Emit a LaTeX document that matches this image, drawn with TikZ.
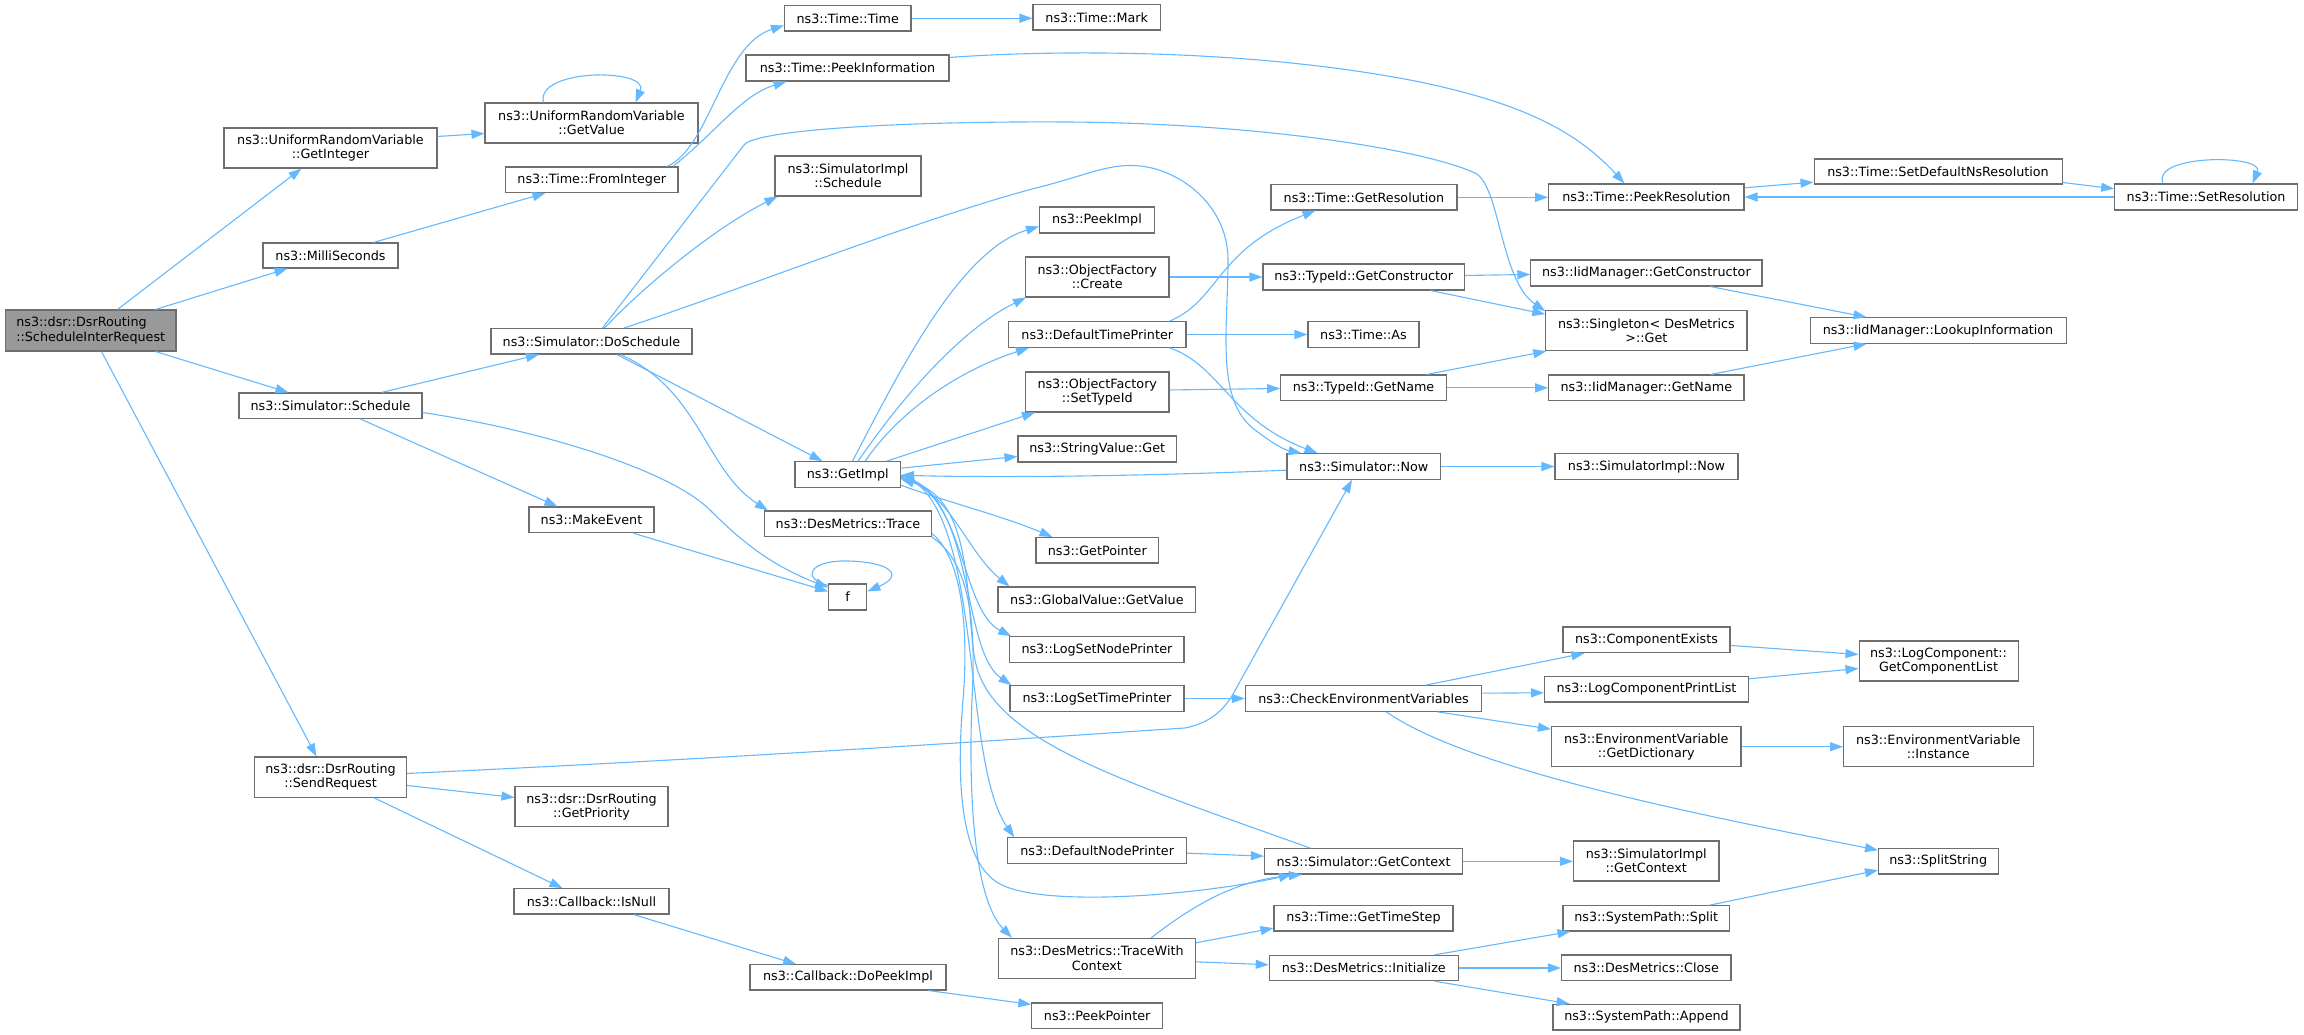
\documentclass[tikz,border=0pt]{standalone}
\usepackage{fontspec}
\setmainfont{DejaVu Sans}
\usetikzlibrary{arrows.meta}
\definecolor{edgeblue}{HTML}{63B8FF}
\definecolor{bordergray}{HTML}{6E6E6E}
\definecolor{rootfill}{HTML}{999999}
\tikzset{
  box/.style={draw=bordergray, line width=1.05pt, fill=white, inner sep=0pt, align=center,
    font=\fontsize{12.75pt}{14.3pt}\selectfont},
  rootbox/.style={fill=rootfill, align=left},
  cl/.style={draw=edgeblue, line width=1.1pt, -{Triangle[length=13pt,width=9pt]}}
}
\newcommand\bx[7][]{%
  \pgfmathsetmacro\bxcx{(#3+#5)/2}%
  \pgfmathsetmacro\bxcy{-(#4+#6)/2}%
  \pgfmathsetmacro\bxw{#5-#3}%
  \pgfmathsetmacro\bxh{#6-#4}%
  \node[box,#1,minimum width=\bxw pt,minimum height=\bxh pt] (#2) at (\bxcx pt,\bxcy pt) {#7};}
\begin{document}
\begin{tikzpicture}[x=1pt,y=1pt]
\useasboundingbox (0,0) rectangle (2304,-1035);
% nodes
\bx[rootbox]{sir}{5.5}{310}{176}{351}{ns3::dsr::DsrRouting\\::ScheduleInterRequest}
\bx{gint}{224}{128}{437}{168}{ns3::UniformRandomVariable\\::GetInteger}
\bx{gval}{485}{103}{698}{143}{ns3::UniformRandomVariable\\::GetValue}
\bx{fint}{505.5}{167}{678}{192.5}{ns3::Time::FromInteger}
\bx{milli}{263}{243}{398}{268}{ns3::MilliSeconds}
\bx{dosch}{491}{328.5}{692}{354}{ns3::Simulator::DoSchedule}
\bx{sched}{239}{393}{422}{418.5}{ns3::Simulator::Schedule}
\bx{ttime}{784.5}{5.5}{911}{31}{ns3::Time::Time}
\bx{mark}{1033}{4.5}{1160.5}{30}{ns3::Time::Mark}
\bx{peekinfo}{746}{55}{949}{81}{ns3::Time::PeekInformation}
\bx{simsched}{775}{156}{921}{196}{ns3::SimulatorImpl\\::Schedule}
\bx{peekimpl}{1039.5}{207}{1154.5}{233}{ns3::PeekImpl}
\bx{create}{1025.5}{257}{1169}{297}{ns3::ObjectFactory\\::Create}
\bx{dtp}{1008.5}{321.7}{1186}{347.3}{ns3::DefaultTimePrinter}
\bx{settype}{1025.5}{372}{1169}{412}{ns3::ObjectFactory\\::SetTypeId}
\bx{getres}{1271}{184.7}{1457}{210}{ns3::Time::GetResolution}
\bx{tgc}{1263}{264}{1464.6}{290}{ns3::TypeId::GetConstructor}
\bx{as}{1308}{321.7}{1419}{347.3}{ns3::Time::As}
\bx{tgn}{1280.7}{375}{1446.4}{400.7}{ns3::TypeId::GetName}
\bx{now}{1287}{453.7}{1440.5}{479.3}{ns3::Simulator::Now}
\bx{strget}{1018}{436}{1176.4}{462}{ns3::StringValue::Get}
\bx{getptr}{1036}{537.5}{1158.6}{563}{ns3::GetPointer}
\bx{peekres}{1548.7}{184}{1744}{210}{ns3::Time::PeekResolution}
\bx{setdef}{1814}{159}{2062}{184}{ns3::Time::SetDefaultNsResolution}
\bx{setres}{2114.7}{184}{2297.4}{210}{ns3::Time::SetResolution}
\bx{iidgc}{1530.8}{260}{1762}{286}{ns3::IidManager::GetConstructor}
\bx{single}{1545.8}{310.7}{1747}{350.7}{ns3::Singleton< DesMetrics\\ >::Get}
\bx{lookup}{1810}{317.7}{2066}{343.3}{ns3::IidManager::LookupInformation}
\bx{iidgn}{1548.7}{375}{1744}{400.7}{ns3::IidManager::GetName}
\bx{getimpl}{795}{461.7}{900.5}{487.3}{ns3::GetImpl}
\bx{trace}{764.4}{511}{931.4}{536.7}{ns3::DesMetrics::Trace}
\bx{f}{828.6}{584}{866.8}{610}{f}
\bx{gvget}{998}{587}{1195.8}{612.7}{ns3::GlobalValue::GetValue}
\bx{lsnp}{1009.8}{636.7}{1184}{662.3}{ns3::LogSetNodePrinter}
\bx{lstp}{1010}{685.7}{1184}{711.3}{ns3::LogSetTimePrinter}
\bx{cev}{1245.3}{685.7}{1481.8}{711.3}{ns3::CheckEnvironmentVariables}
\bx{makeev}{529}{507}{654}{532.7}{ns3::MakeEvent}
\bx{simimplnow}{1555}{453.7}{1738}{479.3}{ns3::SimulatorImpl::Now}
\bx{compex}{1563}{627}{1730}{652.7}{ns3::ComponentExists}
\bx{gcl}{1859}{641}{2018}{681}{ns3::LogComponent::\\GetComponentList}
\bx{lcpl}{1544.5}{676.3}{1748.5}{702}{ns3::LogComponentPrintList}
\bx{getdict}{1551.5}{726.7}{1741}{766.7}{ns3::EnvironmentVariable\\::GetDictionary}
\bx{envinst}{1843.5}{726.7}{2033}{766.7}{ns3::EnvironmentVariable\\::Instance}
\bx{sigc}{1573.5}{841}{1719}{881}{ns3::SimulatorImpl\\::GetContext}
\bx{split}{1878.5}{848.7}{1998}{874}{ns3::SplitString}
\bx{spsplit}{1563}{905.7}{1729.5}{931}{ns3::SystemPath::Split}
\bx{close}{1561.5}{955}{1731}{980.7}{ns3::DesMetrics::Close}
\bx{append}{1553}{1004.3}{1740}{1030}{ns3::SystemPath::Append}
\bx{dnp}{1007.8}{837.7}{1186.5}{863.3}{ns3::DefaultNodePrinter}
\bx{getctx}{1264.4}{848.7}{1462.8}{874}{ns3::Simulator::GetContext}
\bx{timestep}{1274}{905.7}{1453}{931}{ns3::Time::GetTimeStep}
\bx{twc}{998.5}{938.3}{1195.4}{978.3}{ns3::DesMetrics::TraceWith\\Context}
\bx{init}{1269.3}{955.3}{1458.3}{980.7}{ns3::DesMetrics::Initialize}
\bx{dopeek}{750}{964.7}{946}{990}{ns3::Callback::DoPeekImpl}
\bx{peekptr}{1031.8}{1003}{1162.5}{1028.7}{ns3::PeekPointer}
\bx{sendreq}{254.6}{757}{406.5}{797.3}{ns3::dsr::DsrRouting\\::SendRequest}
\bx{prio}{515}{786.7}{668}{826.7}{ns3::dsr::DsrRouting\\::GetPriority}
\bx{isnull}{514}{888.7}{669}{914}{ns3::Callback::IsNull}
% edges
\draw[cl] ([xshift=112.5pt]sir.north west) -- ([xshift=78pt]gint.south west);
\draw[cl] ([xshift=150.5pt]sir.north west) -- ([xshift=25pt]milli.south west);
\draw[cl] ([xshift=150.5pt]sir.south west) -- ([xshift=50pt]sched.north west);
\draw[cl] ([xshift=96.5pt]sir.south west) -- ([xshift=62.4pt]sendreq.north west);
\draw[cl] ([yshift=-9pt]gint.north east) -- ([yshift=-31pt]gval.north west);
\draw[cl] ([xshift=59pt]gval.north west) .. controls (535,-68) and (650,-68) .. ([xshift=151pt]gval.north west);
\draw[cl] ([xshift=111pt]milli.north west) -- ([xshift=40.5pt]fint.south west);
\draw[cl] ([xshift=162pt]fint.north west) .. controls (710,-148) and (722,-45) .. ([yshift=-20.5pt]ttime.north west);
\draw[cl] ([xshift=168pt]fint.north west) .. controls (718,-130) and (742,-95) .. ([xshift=41pt]peekinfo.south west);
\draw[cl] (ttime.east) -- (ttime.east -| mark.west);
\draw[cl] ([yshift=-3pt]peekinfo.north east) .. controls (1050,-50) and (1250,-48) .. (1420,-82) .. controls (1530,-105) and (1580,-135) .. ([xshift=76.3pt]peekres.north west);
\draw[cl] ([xshift=143pt]sched.north west) -- ([xshift=48.5pt]dosch.south west);
\draw[cl] ([xshift=122pt]sched.south west) -- ([xshift=29pt]makeev.north west);
\draw[cl] ([yshift=-20pt]sched.north east) .. controls (540,-430) and (670,-470) .. (710,-510) .. controls (740,-540) and (770,-565) .. ([yshift=-4pt]f.north west);
\draw[cl] ([xshift=105pt]makeev.south west) -- ([yshift=-8pt]f.north west);
\draw[cl] ([yshift=-2pt]f.north west) .. controls (800,-578) and (810,-560) .. (848,-561) .. controls (890,-562) and (905,-575) .. ([yshift=-8pt]f.north east);
\draw[cl] ([xshift=112pt]dosch.north west) -- (744,-145) .. controls (755,-130) and (900,-121) .. (1067,-122) .. controls (1250,-123) and (1420,-148) .. (1475,-173) .. controls (1500,-185) and (1500,-280) .. ([yshift=-1pt]single.north west);
\draw[cl] ([xshift=114pt]dosch.north west) .. controls (650,-280) and (720,-225) .. ([xshift=3pt]simsched.south west);
\draw[cl] ([xshift=133.6pt]dosch.north west) .. controls (740,-290) and (930,-215) .. (1040,-187) .. controls (1090,-174) and (1110,-163) .. (1140,-166) .. controls (1180,-170) and (1228,-205) .. (1228,-260) .. controls (1228,-330) and (1215,-400) .. (1255,-430) .. controls (1275,-445) and (1285,-450) .. ([xshift=15pt]now.north west);
\draw[cl] ([xshift=126.5pt]dosch.south west) -- ([xshift=28pt]getimpl.north west);
\draw[cl] ([xshift=130pt]dosch.south west) .. controls (700,-390) and (705,-470) .. ([xshift=4pt]trace.north west);
\draw[cl] ([xshift=58pt]getimpl.north west) .. controls (900,-370) and (960,-250) .. ([yshift=-20pt]peekimpl.north west);
\draw[cl] ([xshift=63.6pt]getimpl.north west) .. controls (900,-400) and (960,-330) .. ([xshift=1pt]create.south west);
\draw[cl] ([xshift=70.7pt]getimpl.north west) .. controls (900,-410) and (960,-370) .. ([xshift=21pt]dtp.south west);
\draw[cl] ([xshift=92pt]getimpl.north west) -- ([xshift=10pt]settype.south west);
\draw[cl] ([yshift=-7pt]getimpl.north east) -- ([yshift=-21pt]strget.north west);
\draw[cl] ([yshift=-24pt]getimpl.north east) .. controls (940,-500) and (1000,-515) .. ([xshift=17pt]getptr.north west);
\draw[cl] ([yshift=-17pt]getimpl.north east) .. controls (950,-490) and (965,-550) .. ([xshift=12pt]gvget.north west);
\draw[cl] ([yshift=-16pt]getimpl.north east) .. controls (965,-490) and (960,-610) .. ([xshift=2pt]lsnp.north west);
\draw[cl] ([yshift=-15pt]getimpl.north east) .. controls (975,-490) and (960,-650) .. ([xshift=2pt]lstp.north west);
\draw[cl] ([yshift=-14pt]getimpl.north east) .. controls (985,-500) and (960,-760) .. ([xshift=7pt]dnp.north west);
\draw[cl] ([yshift=-17pt]now.north west) .. controls (1150,-476) and (1000,-478) .. ([yshift=-14pt]getimpl.north east);
\draw[cl] ([xshift=46.6pt]getctx.north west) .. controls (1120,-780) and (990,-740) .. (975,-660) .. controls (965,-607) and (975,-500) .. ([yshift=-18pt]getimpl.north east);
\draw[cl] (trace.south east) .. controls (975,-565) and (975,-640) .. (972,-700) .. controls (968,-800) and (975,-900) .. ([xshift=14pt]twc.north west);
\draw[cl] ([yshift=-23pt]trace.north east) .. controls (965,-560) and (968,-640) .. (963,-700) .. controls (958,-760) and (955,-860) .. (1000,-884) .. controls (1045,-908) and (1200,-895) .. ([xshift=28pt]getctx.south west);
\draw[cl] ([xshift=153.3pt]twc.north west) .. controls (1200,-900) and (1240,-880) .. ([xshift=38pt]getctx.south west);
\draw[cl] ([yshift=-5pt]twc.north east) -- ([yshift=-23pt]timestep.north west);
\draw[cl] ([yshift=-24pt]twc.north east) -- ([yshift=-10pt]init.north west);
\draw[cl] ([xshift=166pt]init.north west) -- ([xshift=8pt]spsplit.south west);
\draw[cl] (init.east) -- (init.east -| close.west);
\draw[cl] ([xshift=166pt]init.south west) -- ([xshift=17pt]append.north west);
\draw[cl] ([xshift=147pt]spsplit.north west) -- ([yshift=-22pt]split.north west);
\draw[cl] ([xshift=141.5pt]cev.south west) .. controls (1470,-770) and (1700,-815) .. ([yshift=-2pt]split.north west);
\draw[cl] ([xshift=180.7pt]cev.north west) -- ([xshift=22pt]compex.south west);
\draw[cl] ([yshift=-8pt]cev.north east) -- ([yshift=-17pt]lcpl.north west);
\draw[cl] ([xshift=192.7pt]cev.south west) -- ([yshift=-3pt]getdict.north west);
\draw[cl] ([yshift=-19pt]compex.north east) -- ([yshift=-14pt]gcl.north west);
\draw[cl] ([yshift=-3pt]lcpl.north east) -- ([yshift=-28pt]gcl.north west);
\draw[cl] (getdict.east) -- (envinst.west);
\draw[cl] (lstp.east) -- (cev.west);
\draw[cl] (getctx.east) -- (getctx.east -| sigc.west);
\draw[cl] (now.east) -- (simimplnow.west);
\draw[cl] ([yshift=-16pt]dnp.north east) -- ([yshift=-8pt]getctx.north west);
\draw[cl] ([yshift=-17pt]sendreq.north east) .. controls (800,-755) and (1120,-732) .. (1185,-728) .. controls (1215,-722) and (1228,-705) .. (1238,-685) -- ([xshift=65.6pt]now.south west);
\draw[cl] ([yshift=-29pt]sendreq.north east) -- ([yshift=-11.3pt]prio.north west);
\draw[cl] ([xshift=120pt]sendreq.south west) -- ([xshift=49pt]isnull.north west);
\draw[cl] ([xshift=120pt]isnull.south west) -- ([xshift=46.7pt]dopeek.north west);
\draw[cl] ([xshift=179pt]dopeek.south west) -- ([yshift=-2pt]peekptr.north west);
\draw[cl] (create.east) -- (create.east -| tgc.west);
\draw[cl] ([yshift=-18.5pt]settype.north east) -- ([yshift=-14pt]tgn.north west);
\draw[cl] (dtp.east) -- (dtp.east -| as.west);
\draw[cl] ([xshift=161.5pt]dtp.north west) .. controls (1220,-300) and (1215,-250) .. ([xshift=45pt]getres.south west);
\draw[cl] ([xshift=161.5pt]dtp.south west) .. controls (1220,-365) and (1230,-420) .. ([xshift=31pt]now.north west);
\draw[cl] (getres.east) -- (getres.east -| peekres.west);
\draw[cl] ([yshift=-12pt]tgc.north east) -- ([yshift=-15pt]iidgc.north west);
\draw[cl] ([xshift=168pt]tgc.south west) -- ([yshift=-4pt]single.north west);
\draw[cl] ([xshift=146.3pt]tgn.north west) -- ([xshift=1pt]single.south west);
\draw[cl] (tgn.east) -- (tgn.east -| iidgn.west);
\draw[cl] ([xshift=180pt]iidgc.south west) -- ([xshift=57pt]lookup.north west);
\draw[cl] ([xshift=162.5pt]iidgn.north west) -- ([xshift=57pt]lookup.south west);
\draw[cl] ([yshift=-4.3pt]peekres.north east) -- ([yshift=-23.7pt]setdef.north west);
\draw[cl] ([yshift=-24pt]setdef.north east) -- ([yshift=-5.3pt]setres.north west);
\draw[cl] (setres.west) -- (setres.west -| peekres.east);
\draw[cl] ([xshift=49pt]setres.north west) .. controls (2150,-154) and (2265,-154) .. ([xshift=138.3pt]setres.north west);
\end{tikzpicture}
\end{document}
